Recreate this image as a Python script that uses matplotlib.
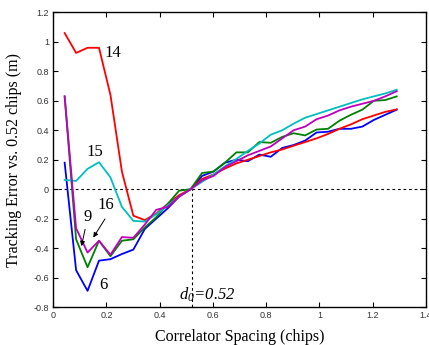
import numpy as np
import matplotlib
matplotlib.use('agg')
import matplotlib.pyplot as plt

plt.rcParams['mathtext.fontset'] = 'custom'
plt.rcParams['mathtext.it'] = 'Liberation Serif:italic'
plt.rcParams['mathtext.rm'] = 'Liberation Serif:italic'

# correlator spacing in chips (30 points)
spacing = [0.043 * k for k in range(1, 31)]

# tracking error vs 0.52 chips (m), one series per satellite
err_6 = [0.18, -0.55, -0.69, -0.485, -0.475, -0.44, -0.41, -0.27, -0.20, -0.13,
         -0.05, 0.0, 0.09, 0.12, 0.18, 0.20, 0.19, 0.235, 0.22, 0.28,
         0.30, 0.33, 0.385, 0.39, 0.41, 0.41, 0.425, 0.47, 0.505, 0.54]
err_14 = [1.06, 0.925, 0.96, 0.96, 0.64, 0.12, -0.18, -0.21, -0.165, -0.10,
          -0.04, 0.0, 0.07, 0.10, 0.14, 0.175, 0.20, 0.225, 0.25, 0.27,
          0.295, 0.32, 0.345, 0.375, 0.41, 0.44, 0.475, 0.50, 0.525, 0.542]
err_9 = [0.63, -0.34, -0.53, -0.35, -0.455, -0.35, -0.34, -0.26, -0.19, -0.10,
         -0.01, 0.0, 0.11, 0.12, 0.18, 0.25, 0.25, 0.32, 0.315, 0.355,
         0.38, 0.365, 0.405, 0.41, 0.465, 0.505, 0.54, 0.60, 0.605, 0.63]
err_15 = [0.063, 0.056, 0.138, 0.183, 0.08, -0.12, -0.215, -0.22, -0.17, -0.11,
          -0.05, 0.0, 0.05, 0.10, 0.155, 0.205, 0.26, 0.31, 0.37, 0.40,
          0.445, 0.485, 0.51, 0.535, 0.56, 0.585, 0.61, 0.63, 0.65, 0.675]
err_16 = [0.63, -0.265, -0.43, -0.35, -0.445, -0.325, -0.33, -0.24, -0.14, -0.12,
          -0.05, 0.0, 0.06, 0.09, 0.15, 0.19, 0.23, 0.26, 0.29, 0.345,
          0.40, 0.425, 0.475, 0.50, 0.535, 0.56, 0.58, 0.60, 0.63, 0.665]

d0 = 0.52

fig = plt.figure(figsize=(4.29, 3.45), dpi=100)
ax = fig.add_axes([0.124, 0.110, 0.869, 0.854])

ax.axhline(0, color='black', ls=(0, (2.5, 2.5)), lw=0.8)
ax.plot([d0, d0], [-0.8, 0], color='black', ls=(0, (2.5, 2.5)), lw=0.8)

ax.plot(spacing, err_6, color='blue', lw=1.3)
ax.plot(spacing, err_14, color='red', lw=1.3)
ax.plot(spacing, err_9, color=(0, 0.5, 0), lw=1.3)
ax.plot(spacing, err_15, color=(0, 0.75, 0.75), lw=1.3)
ax.plot(spacing, err_16, color=(0.75, 0, 0.75), lw=1.3)

serif = 'Liberation Serif'
ax.text(0.224, 0.924, '14', fontsize=12, family=serif, ha='center', va='center')
ax.text(0.156, 0.253, '15', fontsize=12, family=serif, ha='center', va='center')
ax.text(0.13, -0.188, '9', fontsize=12, family=serif, ha='center', va='center')
ax.text(0.198, -0.106, '16', fontsize=12, family=serif, ha='center', va='center')
ax.text(0.19, -0.649, '6', fontsize=12, family=serif, ha='center', va='center')
ax.annotate('', xy=(0.104, -0.405), xytext=(0.122, -0.254),
            arrowprops=dict(arrowstyle='-|>', color='black', lw=0.7, mutation_scale=7))
ax.annotate('', xy=(0.145, -0.344), xytext=(0.2, -0.186),
            arrowprops=dict(arrowstyle='-|>', color='black', lw=0.7, mutation_scale=7))
ax.text(0.58, -0.717, r'$d_0$=0.52', fontsize=12, family=serif, style='italic',
        ha='center', va='center')

ax.set_xlim(0, 1.4)
ax.set_ylim(-0.8, 1.2)
ax.set_xticks(np.arange(0, 1.41, 0.2))
ax.set_xticklabels(['0', '0.2', '0.4', '0.6', '0.8', '1', '1.2', '1.4'])
ax.set_yticks(np.arange(-0.8, 1.21, 0.2))
ax.set_yticklabels(['-0.8', '-0.6', '-0.4', '-0.2', '0', '0.2', '0.4', '0.6', '0.8', '1', '1.2'])
ax.tick_params(direction='in', top=True, right=True, length=3.5, width=0.8,
               labelsize=6.5, pad=3)
for lab in ax.get_xticklabels() + ax.get_yticklabels():
    lab.set_family('Liberation Sans')
    lab.set_color('#333333')
for sp in ax.spines.values():
    sp.set_linewidth(1.0)

ax.set_xlabel('Correlator Spacing (chips)', fontsize=11.5, family=serif, labelpad=6)
ax.set_ylabel('Tracking Error vs. 0.52 chips (m)', fontsize=11.5, family=serif, labelpad=8)

fig.savefig('out.png', dpi=100)
plt.close(fig)
